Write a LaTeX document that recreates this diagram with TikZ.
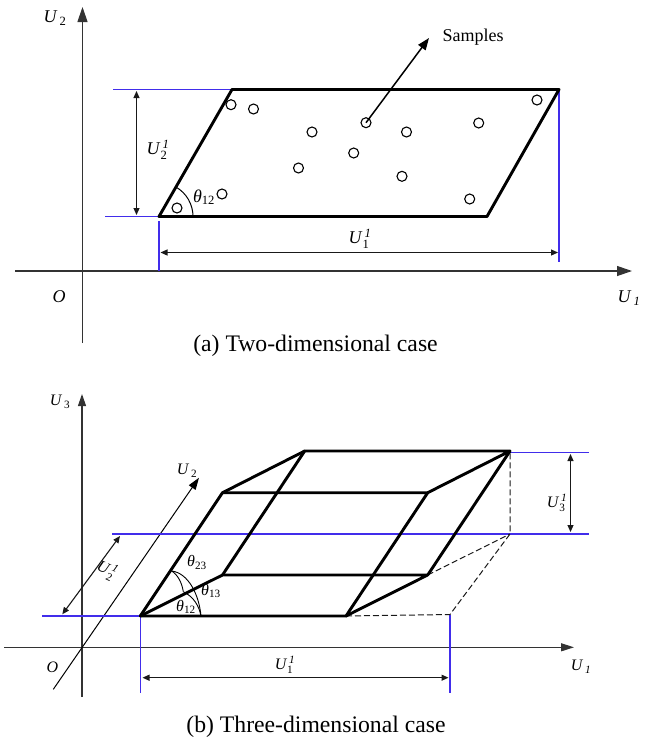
\documentclass[tikz,border=0pt]{standalone}
\usepackage{amsmath}
\usepackage{fontspec}
\setmainfont{Liberation Serif}
\usetikzlibrary{arrows.meta}
\definecolor{guideblue}{RGB}{65,45,235}
\tikzset{
  axisline/.style={black!80, line width=1.2pt},
  bigtip/.style={-{Triangle[length=15pt, width=10pt]}},
  boxline/.style={line width=2.9pt, line cap=round, line join=round},
  guide/.style={guideblue, line width=1.2pt},
  dimline/.style={black!90, line width=1.1pt, {Triangle[length=7pt, width=6pt]}-{Triangle[length=7pt, width=6pt]}},
  hidden/.style={black!90, line width=1pt, dash pattern=on 6pt off 3pt},
  sample/.style={circle, draw, line width=1.1pt, minimum size=10pt, inner sep=0pt},
  lab/.style={inner sep=0pt, font=\fontsize{18}{18}\selectfont},
  smalllab/.style={inner sep=0pt, font=\fontsize{16}{16}\selectfont},
  caption/.style={inner sep=0pt, font=\fontsize{23.7}{24}\selectfont}
}
\newcommand{\ulab}[1]{\textit{U}$_{\,\text{#1}}$}
\newcommand{\uilab}{\textit{U}$_{\,\textit{1}}$}
\newcommand{\uulab}[1]{\textit{U}$^{\,\textit{1}}_{\text{#1}}$}
\newcommand{\thlab}[1]{\textit{θ}$_{\text{#1}}$}
\begin{document}
\begin{tikzpicture}[x=1pt, y=-1pt]
\useasboundingbox (0,0) rectangle (651,740);
\coordinate (aA) at (159,216.5);
\coordinate (aB) at (487,216.5);
\coordinate (aC) at (232,89.5);
\coordinate (aD) at (559,89.5);
\coordinate (aL) at (113,89.5);
\coordinate (aM) at (105,216.5);
\coordinate (aN) at (159,271);
\coordinate (aP) at (559,262);
\coordinate (aO) at (82.5,343);
\coordinate (aT) at (82.5,7);
\coordinate (aW) at (15,271);
\coordinate (aE) at (632,271);
\coordinate (aS) at (429,38);
\draw[axisline, bigtip] (aO) -- (aT);
\draw[axisline, bigtip] (aW) -- (aE);
\draw[guide] (aL) -- (aC);
\draw[guide] (aM) -- (aA);
\draw[guide] (aA) ++(0,4.5) -- (aN);
\draw[guide] (aD) -- (aP);
\draw[boxline] (aA) -- (aC) -- (aD) -- (aB) -- cycle;
\draw[dimline] (136.5,91) -- (136.5,215);
\draw[dimline] (160.5,252.5) -- (558,252.5);
\draw[line width=1pt] (aA) ++(34,0) arc[start angle=0, end angle=-60, radius=34];
\node[sample] (s1) at (231,104.7) {};
\node[sample] (s2) at (253.5,109) {};
\node[sample] (s3) at (312,132) {};
\node[sample] (s4) at (298.5,168) {};
\node[sample] (s5) at (222,194) {};
\node[sample] (s6) at (177,208) {};
\node[sample] (s7) at (366,122.7) {};
\node[sample] (s8) at (406.5,132) {};
\node[sample] (s9) at (353.7,153) {};
\node[sample] (s10) at (402,176.3) {};
\node[sample] (s11) at (469.7,199) {};
\node[sample] (s12) at (478.7,123) {};
\node[sample] (s13) at (537,100) {};
\draw[line width=1.5pt, -{Triangle[length=12pt, width=9pt]}] (s7.center) -- (aS);
\node[lab] (samples) at (473,37) {Samples};
\node[lab] (au2) at (55,18) {\ulab{2}};
\node[lab] (au1) at (629,298) {\uilab};
\node[lab] (ao) at (59,297) {\textit{O}};
\node[lab] (au21) at (158,150) {\uulab{2}};
\node[lab] (au11) at (360,239) {\uulab{1}};
\node[lab] (ath) at (204,197) {\thlab{12}};
\node[caption] (capa) at (315.5,346) {(a) Two-dimensional case};
\coordinate (bA) at (140.3,616);
\coordinate (bB) at (346,616);
\coordinate (bC) at (222.5,575);
\coordinate (bD) at (427.7,575);
\coordinate (bE) at (222.5,492.7);
\coordinate (bF) at (427.7,492.7);
\coordinate (bG) at (304.7,451);
\coordinate (bH) at (510,451);
\coordinate (bI) at (510,534);
\coordinate (bJ) at (450,614.5);
\draw[axisline, -{Triangle[length=12pt, width=8pt]}] (82,697) -- (82,394);
\draw[axisline, -{Triangle[length=13pt, width=8pt]}] (4,647.3) -- (574,647.3);
\draw[line width=1pt, -{Triangle[length=12pt, width=8pt]}] (53.3,689.3) -- (199,477.7);
\draw[guide] (42,616) -- (bA) -- (140.3,693);
\draw[guide] (112,534) -- (589,534);
\draw[guide] (bH) ++(0,1.5) -- (589,452.5);
\draw[guide] (bJ) -- (450,693);
\draw[hidden] (bB) -- (bJ) -- (bI) -- (bH);
\draw[hidden] (bD) -- (bI);
\draw[boxline] (bA) -- (bB) -- (bF) -- (bE) -- cycle;
\draw[boxline] (bA) -- (bC) -- (bD) -- (bB);
\draw[boxline] (bC) -- (bG) -- (bH) -- (bF);
\draw[boxline] (bE) -- (bG);
\draw[boxline] (bD) -- (bH);
\draw[dimline] (570.5,454) -- (570.5,532);
\draw[dimline] (142.5,677.7) -- (448.5,677.7);
\draw[dimline] (62.3,614.3) -- (120,536);
\coordinate (arcp) at (171.7,571);
\coordinate (arcq) at (183.3,591.7);
\coordinate (arcr) at (201,616);
\draw[line width=0.9pt] (arcq) .. controls (194,597) and (199,606) .. (arcr);
\draw[line width=0.9pt] (arcp) .. controls (188,573) and (199,594) .. (arcr);
\draw[line width=0.9pt] (arcp) .. controls (178,575) and (182,583) .. (arcq);
\node[smalllab] (bu3) at (60,402) {\ulab{3}};
\node[smalllab] (bu2) at (187,471) {\ulab{2}};
\node[smalllab] (bu1) at (581,667) {\uilab};
\node[smalllab] (bo) at (52.5,667) {\textit{O}};
\node[smalllab, rotate=-25] (bu21) at (107,570) {\uulab{2}};
\node[smalllab] (bu11) at (285,665) {\uulab{1}};
\node[smalllab] (bu31) at (557,502.7) {\uulab{3}};
\node[smalllab] (bt23) at (197,562.7) {\thlab{23}};
\node[smalllab] (bt13) at (211,591) {\thlab{13}};
\node[smalllab] (bt12) at (186,607) {\thlab{12}};
\node[caption] (capb) at (316,726.5) {(b) Three-dimensional case};
\end{tikzpicture}
\end{document}
